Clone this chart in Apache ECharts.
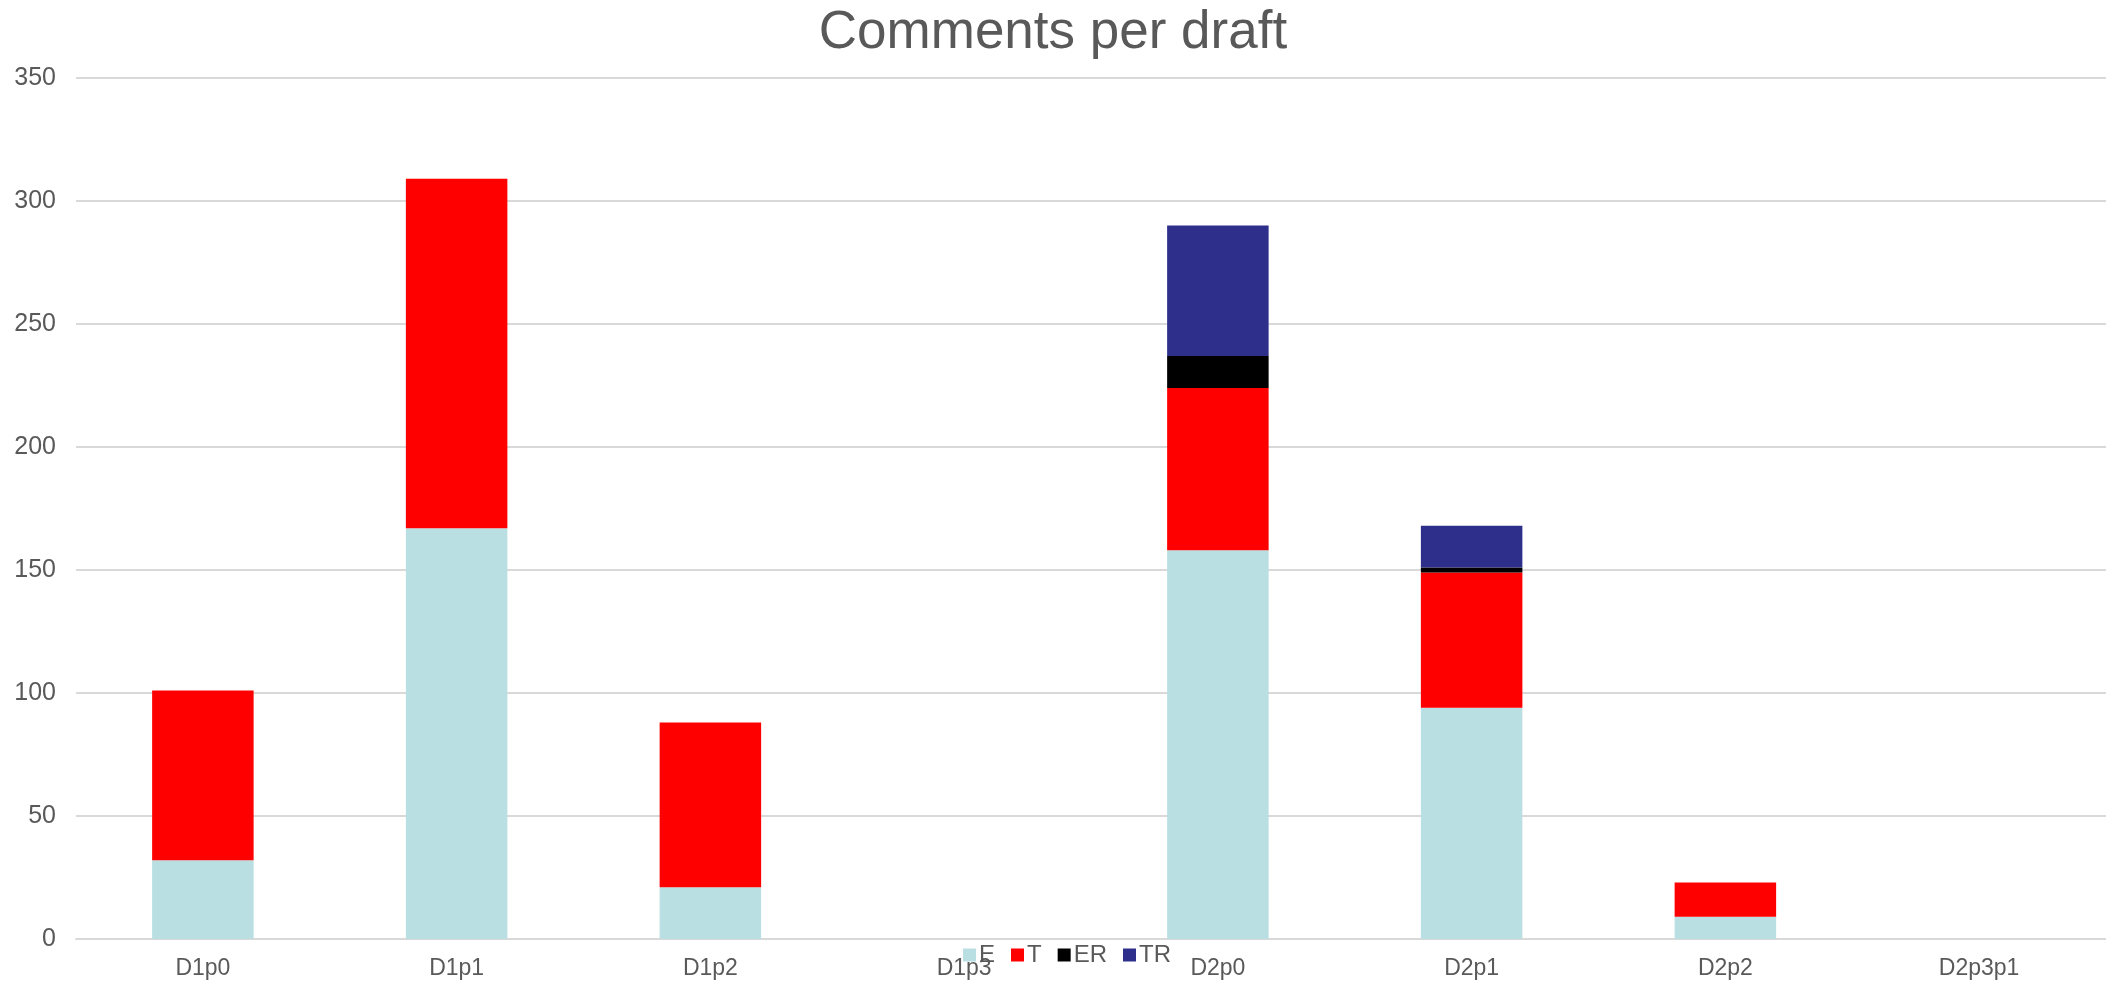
<!DOCTYPE html>
<html>
<head>
<meta charset="utf-8">
<script src="https://cdn.jsdelivr.net/npm/echarts@6/dist/echarts.min.js"></script>
<style>html,body{margin:0;padding:0;background:#fff;overflow:hidden;}#c{width:2106px;height:984px;}</style>
</head>
<body>
<div id="c"></div>
<script>
const categories = ['D1p0','D1p1','D1p2','D1p3','D2p0','D2p1','D2p2','D2p3p1'];
const E  = [32, 167, 21, null, 158, 94, 9, null];
const T  = [69, 142, 67, null, 66, 55, 14, null];
const ER = [null, null, null, null, 13, 2, null, null];
const TR = [null, null, null, null, 53, 17, null, null];
const yTicks = [0, 50, 100, 150, 200, 250, 300, 350];

const chart = echarts.init(document.getElementById('c'));
const font = 'Liberation Sans, Arial, sans-serif';
function s(name, data, color) {
  return { name, type: 'bar', stack: 'all', data, barWidth: '40%',
    itemStyle: { color }, emphasis: { disabled: true } };
}
chart.setOption({
  animation: false,
  title: { text: 'Comments per draft', left: 'center', top: 2,
    textStyle: { fontFamily: font, fontSize: 53, fontWeight: 'normal', color: '#595959' } },
  legend: { left: 958, top: 938, itemWidth: 13, itemHeight: 13, itemGap: 16,
    icon: 'rect',
    textStyle: { fontFamily: font, fontSize: 24, color: '#595959', padding: [0,0,0,-2] },
    data: ['E','T','ER','TR'] },
  grid: { left: 76, right: -6, top: 78, bottom: 45, containLabel: false },
  xAxis: { type: 'category', data: categories,
    axisLine: { lineStyle: { color: '#D9D9D9', width: 2 } },
    axisTick: { show: false },
    axisLabel: { fontFamily: font, fontSize: 23, color: '#595959', margin: 18 } },
  yAxis: { type: 'value', min: yTicks[0], max: yTicks[yTicks.length-1], interval: 50,
    axisLine: { show: false }, axisTick: { show: false },
    splitLine: { lineStyle: { color: '#D9D9D9', width: 2 } },
    axisLabel: { fontFamily: font, fontSize: 25, color: '#595959', margin: 20 } },
  series: [ s('E', E, '#BADFE2'), s('T', T, '#FF0000'), s('ER', ER, '#000000'), s('TR', TR, '#2E2F8B') ]
});
</script>
</body>
</html>
